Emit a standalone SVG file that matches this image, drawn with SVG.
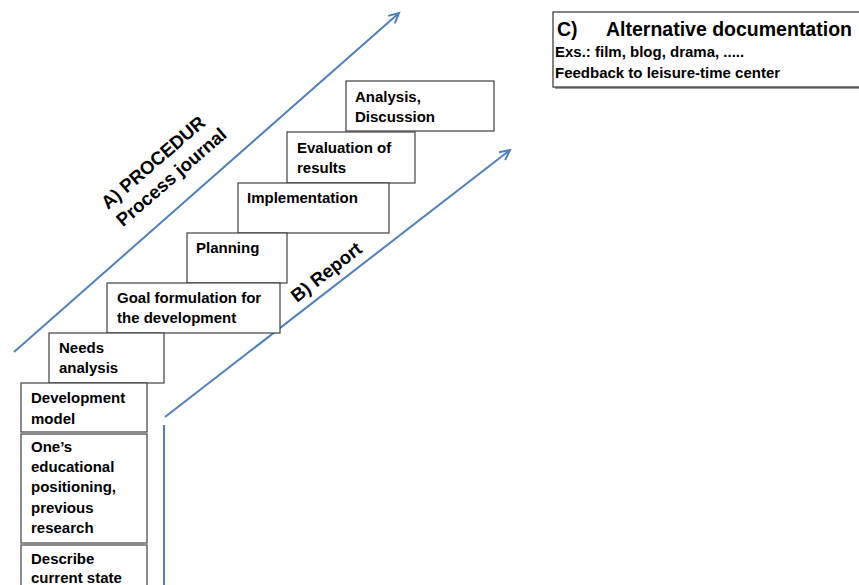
<svg xmlns="http://www.w3.org/2000/svg" width="859" height="585" viewBox="0 0 859 585">
<style>
.box{fill:#fff;stroke:#404040;stroke-width:1.2}
.t{font-family:"Liberation Sans",Arial,sans-serif;font-weight:bold;font-size:15px;fill:#000}
.rt{font-family:"Liberation Sans",Arial,sans-serif;font-weight:bold;font-size:18.5px;fill:#000}
.ln{stroke:#4F81BD;stroke-width:2;fill:none}
</style>
<defs>
<marker id="ah" markerUnits="userSpaceOnUse" markerWidth="14" markerHeight="14" refX="11" refY="6" orient="auto" viewBox="0 0 14 12">
<path d="M1,1 L11,6 L1,11" fill="none" stroke="#4F81BD" stroke-width="2"/>
</marker>
</defs>
<rect width="859" height="585" fill="#fff"/>
<g id="connectors">
<line class="ln" x1="14" y1="352" x2="399" y2="13" marker-end="url(#ah)"/>
<line class="ln" x1="165" y1="417" x2="510" y2="150" marker-end="url(#ah)"/>
<line class="ln" x1="164" y1="425" x2="164" y2="590"/>
</g>
<g id="n-analysis"><rect class="box" x="346" y="81" width="148" height="50"/><text class="t" x="355" y="102">Analysis,</text><text class="t" x="355" y="122">Discussion</text></g>
<g id="n-evaluation"><rect class="box" x="287" y="132" width="128" height="51"/><text class="t" x="297" y="153">Evaluation of</text><text class="t" x="297" y="173">results</text></g>
<g id="n-implementation"><rect class="box" x="238" y="183" width="151" height="50"/><text class="t" x="247" y="203">Implementation</text></g>
<g id="n-planning"><rect class="box" x="187" y="233" width="100" height="50"/><text class="t" x="196" y="253">Planning</text></g>
<g id="n-goal"><rect class="box" x="107" y="283" width="173" height="50"/><text class="t" x="117" y="303">Goal formulation for</text><text class="t" x="117" y="323">the development</text></g>
<g id="n-needs"><rect class="box" x="49" y="333" width="115" height="50"/><text class="t" x="59" y="353">Needs</text><text class="t" x="59" y="373">analysis</text></g>
<g id="n-devmodel"><rect class="box" x="21" y="383" width="126" height="49"/><text class="t" x="31" y="403">Development</text><text class="t" x="31" y="424">model</text></g>
<g id="n-positioning"><rect class="box" x="21" y="434" width="126" height="109"/><text class="t" x="31" y="452">One’s</text><text class="t" x="31" y="472">educational</text><text class="t" x="31" y="492">positioning,</text><text class="t" x="31" y="513">previous</text><text class="t" x="31" y="533">research</text></g>
<g id="n-describe"><rect class="box" x="21" y="545" width="126" height="50"/><text class="t" x="31" y="564">Describe</text><text class="t" x="31" y="583">current state</text></g>
<g id="label-a"><text class="rt" transform="translate(108,210) rotate(-41)"><tspan x="0" y="0">A) PROCEDUR</tspan><tspan x="0" y="23">Process journal</tspan></text></g>
<g id="label-b"><text class="rt" transform="translate(297,303) rotate(-38)">B) Report</text></g>
<g id="n-alternative">
<rect x="555" y="14" width="320" height="75" fill="#9a9a9a"/>
<rect x="553" y="12" width="320" height="75" fill="#fff" stroke="#333" stroke-width="1.2"/>
<text class="t" x="557" y="36" style="font-size:19.5px">C)</text>
<text class="t" x="606" y="36" style="font-size:19.5px">Alternative documentation</text>
<text class="t" x="555" y="57">Exs.: film, blog, drama, .....</text>
<text class="t" x="555" y="78">Feedback to leisure-time center</text>
</g>
</svg>
